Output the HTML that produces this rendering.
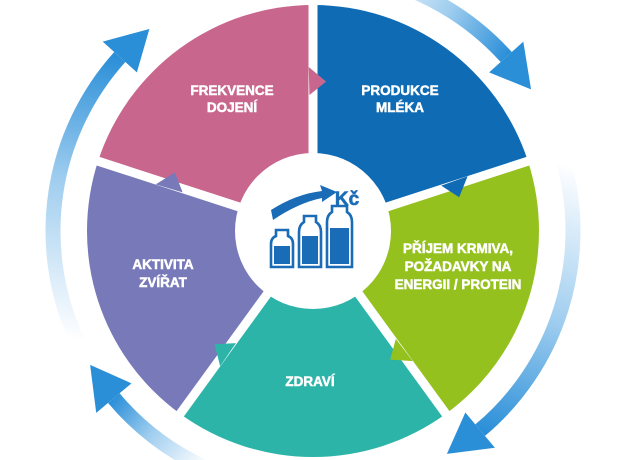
<!DOCTYPE html>
<html><head><meta charset="utf-8"><style>
html,body{margin:0;padding:0;background:#fff;width:624px;height:460px;overflow:hidden}
svg{display:block}
.t{font-family:"Liberation Sans",sans-serif;font-weight:bold;font-size:13.5px;fill:#fff;stroke:#fff;stroke-width:0.5;text-anchor:middle}
</style></head><body>
<svg id="s" width="624" height="460" viewBox="0 0 624 460" xmlns="http://www.w3.org/2000/svg">
<defs></defs>
<g id="arrows"></g>
<g id="pie"></g>
<circle cx="313" cy="231" r="78" fill="#fff"/>
<g id="icon">
<path d="M271 210 Q296 194 322 191 L320 185 L337 192 L322 202 L322 198 Q298 203 273 220 Z" fill="#1a6cb6"/>
<text x="347" y="205" font-family="Liberation Sans,sans-serif" font-weight="bold" font-size="19" fill="#1a6cb6" stroke="#1a6cb6" stroke-width="0.6" text-anchor="middle">Kč</text>
<g fill="none" stroke="#1a6cb6" stroke-width="2.6">
<path d="M271 267 L271 244 Q271 238 276 236 L276 230 L288 230 L288 236 Q293 238 293 244 L293 267 Z"/>
<path d="M299 267 L299 232 Q299 225 304 222 L304 216 L316 216 L316 222 Q321 225 321 232 L321 267 Z"/>
<path d="M327 267 L327 222 Q327 215 332 212 L332 206 L347 206 L347 212 Q352 215 352 222 L352 267 Z"/>
</g>
<g fill="#1a6cb6">
<rect x="274" y="246" width="16" height="18"/>
<rect x="302" y="236" width="16" height="28"/>
<rect x="330" y="228" width="19" height="36"/>
</g>
</g>
<text class="t" x="232" y="95">FREKVENCE</text><text class="t" x="232" y="112">DOJENÍ</text>
<text class="t" x="400" y="95">PRODUKCE</text><text class="t" x="400" y="112">MLÉKA</text>
<text class="t" x="458" y="253">PŘÍJEM KRMIVA,</text><text class="t" x="458" y="271">POŽADAVKY NA</text><text class="t" x="458" y="289">ENERGII / PROTEIN</text>
<text class="t" x="163" y="269">AKTIVITA</text><text class="t" x="163" y="287">ZVÍŘAT</text>
<text class="t" x="310" y="386">ZDRAVÍ</text>
</svg>
<script>
var NS="http://www.w3.org/2000/svg",cx=313,cy=231;
function P(t,r){var a=t*Math.PI/180;return [cx+r*Math.sin(a),cy-r*Math.cos(a)];}
function el(n,at,p){var e=document.createElementNS(NS,n);for(var k in at)e.setAttribute(k,at[k]);p.appendChild(e);return e;}
var pie=document.getElementById('pie');
var cols=[["#0f6bb4",0],["#95c11f",72],["#2cb4a8",144],["#7879b9",216],["#c8668d",288]];
var R=226,ri=60;
cols.forEach(function(c){var a=c[1],b=a+72;
 var p1=P(a,R),p2=P(b,R),p3=P(b,ri),p4=P(a,ri);
 el('path',{d:"M"+p4+" L"+p1+" A"+R+" "+R+" 0 0 1 "+p2+" L"+p3+" A"+ri+" "+ri+" 0 0 0 "+p4+"Z",fill:c[0]},pie);
});
cols.forEach(function(c){var p=P(c[1],R+2),q=P(c[1],ri);
 el('line',{x1:q[0],y1:q[1],x2:p[0],y2:p[1],stroke:"#fff","stroke-width":9},pie);});
cols.forEach(function(c){var b=c[1]+72;var q1=P(b-1.5,136),q2=P(b-1.5,164),q3=P(b+5,150);
 el('path',{d:"M"+q1+" L"+q3+" L"+q2+"Z",fill:c[0]},pie);});
var defs=document.querySelector('defs'),ag=document.getElementById('arrows');
var rr=260,arr=[[245,312],[12,48],[75,140],[205,230]];
arr.forEach(function(a,i){var t0=a[0],t1=a[1];
 var s=P(t0,rr),e=P(t1,rr);
 var g=el('linearGradient',{id:"g"+i,gradientUnits:"userSpaceOnUse",x1:s[0],y1:s[1],x2:e[0],y2:e[1]},defs);
 el('stop',{offset:"0","stop-color":"#ffffff"},g);
 el('stop',{offset:"0.55","stop-color":"#9fcdef"},g);
 el('stop',{offset:"1","stop-color":"#2b8fd8"},g);
 el('path',{d:"M"+s+" A"+rr+" "+rr+" 0 0 1 "+e,fill:"none",stroke:"url(#g"+i+")","stroke-width":15},ag);
 var b1=P(t1,rr-23),b2=P(t1,rr+23),tip=P(t1+9,rr);
 el('path',{d:"M"+b1+" L"+tip+" L"+b2+"Z",fill:"#2b8fd8"},ag);
});
</script>
</body></html>
